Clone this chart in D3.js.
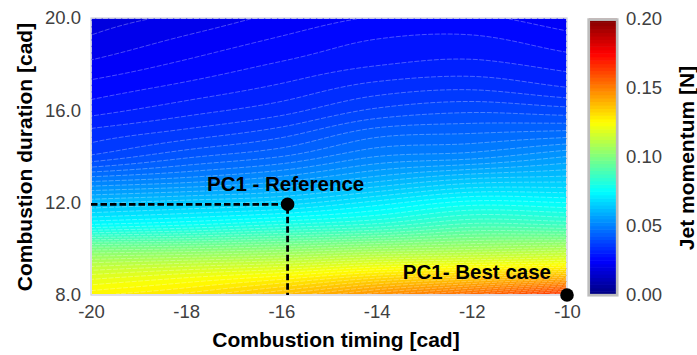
<!DOCTYPE html>
<html>
<head>
<meta charset="utf-8">
<script src="https://cdn.jsdelivr.net/npm/d3@7"></script>
<style>
  html, body { margin: 0; padding: 0; background: #fff; }
  svg { display: block; font-family: "Liberation Sans", Arial, sans-serif; }
</style>
</head>
<body>
<svg width="697" height="355"></svg>
<script>
// combustion timing [cad] (columns) and combustion duration [cad] (rows)
const timing = [-20, -18, -16, -14, -12, -10];
const duration = [8, 9, 10, 11, 12, 13, 14, 15, 16, 17, 18, 19, 20];

// jet momentum [N], one array per timing column, ordered by duration 8 -> 20
const momT20 = [0.127, 0.116, 0.099, 0.076, 0.062, 0.049, 0.038, 0.0335, 0.029, 0.026, 0.023, 0.0205, 0.0188];
const momT18 = [0.131, 0.119, 0.100, 0.078, 0.064, 0.051, 0.042, 0.036, 0.0315, 0.0282, 0.0255, 0.0231, 0.0207];
const momT16 = [0.138, 0.122, 0.102, 0.081, 0.066, 0.054, 0.045, 0.039, 0.034, 0.0305, 0.0278, 0.0255, 0.0232];
const momT14 = [0.147, 0.127, 0.105, 0.084, 0.071, 0.059, 0.050, 0.044, 0.038, 0.0335, 0.0298, 0.0277, 0.0252];
const momT12 = [0.155, 0.130, 0.107, 0.089, 0.076, 0.063, 0.0515, 0.045, 0.0395, 0.0345, 0.0306, 0.0282, 0.0255];
const momT10 = [0.166, 0.133, 0.109, 0.088, 0.075, 0.064, 0.055, 0.046, 0.0385, 0.0325, 0.029, 0.0262, 0.0235];

const xTicks = [-20, -18, -16, -14, -12, -10];
const yTicks = [8, 12, 16, 20];
const cTicks = [0, 0.05, 0.1, 0.15, 0.2];

const refPoint = { timing: -15.87, duration: 11.93, label: 'PC1 - Reference' };
const bestPoint = { timing: -10, duration: 8, label: 'PC1- Best case' };

let columns = [momT20, momT18, momT16, momT14, momT12, momT10];

let plotLeft = 91, plotTop = 18, plotW = 476, plotH = 277;
let svg = d3.select('svg');

let xScale = d3.scaleLinear().domain([-20, -10]).range([plotLeft, plotLeft + plotW]);
let yScale = d3.scaleLinear().domain([8, 20]).range([plotTop + plotH, plotTop]);
let cScale = d3.scaleLinear().domain([0, 0.2]).range([295, 19]);

// matlab style jet
function jet(t) {
  let c = v => Math.max(0, Math.min(1, v));
  let r = c(Math.min(4 * t - 1.5, -4 * t + 4.5));
  let g = c(Math.min(4 * t - 0.5, -4 * t + 3.5));
  let b = c(Math.min(4 * t + 0.5, -4 * t + 2.5));
  return d3.rgb(r * 255, g * 255, b * 255).toString();
}

// grid lookup with linear extension past the edges
function grid(i, j) {
  if (i < 0) return 2 * grid(0, j) - grid(1, j);
  if (i >= timing.length) return 2 * grid(timing.length - 1, j) - grid(timing.length - 2, j);
  if (j < 0) return 2 * grid(i, 0) - grid(i, 1);
  if (j >= duration.length) return 2 * grid(i, duration.length - 1) - grid(i, duration.length - 2);
  return columns[i][j];
}
function cr(p0, p1, p2, p3, t) {
  return p1 + 0.5 * t * (p2 - p0 + t * (2 * p0 - 5 * p1 + 4 * p2 - p3 + t * (3 * (p1 - p2) + p3 - p0)));
}
function sample(x, y) {
  let gx = (x - timing[0]) / (timing[1] - timing[0]);
  let gy = (y - duration[0]) / (duration[1] - duration[0]);
  let i = Math.min(Math.floor(gx), timing.length - 2), j = Math.min(Math.floor(gy), duration.length - 2);
  let tx = gx - i, ty = gy - j;
  let rows = [-1, 0, 1, 2].map(dj => cr(grid(i - 1, j + dj), grid(i, j + dj), grid(i + 1, j + dj), grid(i + 2, j + dj), tx));
  return cr(rows[0], rows[1], rows[2], rows[3], ty);
}

let nx = 238, ny = 140;
let values = new Array(nx * ny);
for (let j = 0; j < ny; j++) {
  for (let i = 0; i < nx; i++) {
    let x = -20 + (i + 0.5) * 10 / nx;
    let y = 20 - (j + 0.5) * 12 / ny;
    values[j * nx + i] = sample(x, y);
  }
}

let step = 0.0025;
let levels = d3.range(0, 0.2, step);
let contours = d3.contours().size([nx, ny]).thresholds(levels)(values);

let proj = d3.geoTransform({
  point: function(x, y) { this.stream.point(plotLeft + x * plotW / nx, plotTop + y * plotH / ny); }
});
let path = d3.geoPath(proj);

svg.append('clipPath').attr('id', 'plotclip')
  .append('rect').attr('x', plotLeft).attr('y', plotTop).attr('width', plotW).attr('height', plotH);

let plot = svg.append('g').attr('clip-path', 'url(#plotclip)');

plot.selectAll('path.band')
  .data(contours)
  .enter()
  .append('path')
  .classed('band', true)
  .attr('d', path)
  .attr('fill', d => jet((d.value + step / 2) / 0.2));

plot.selectAll('path.line')
  .data(contours.slice(1))
  .enter()
  .append('path')
  .classed('line', true)
  .attr('d', path)
  .attr('fill', 'none')
  .attr('stroke', 'rgba(255,255,255,0.42)')
  .attr('stroke-width', 0.7)
  .attr('stroke-dasharray', '5,1.5');

svg.append('rect')
  .attr('x', plotLeft).attr('y', plotTop).attr('width', plotW).attr('height', plotH)
  .attr('fill', 'none').attr('stroke', '#cdcdd8').attr('stroke-width', 1.2);

// reference guide lines
svg.append('path')
  .attr('d', `M${plotLeft},${yScale(refPoint.duration)}H${xScale(refPoint.timing)}V${plotTop + plotH}`)
  .attr('fill', 'none')
  .attr('stroke', '#000')
  .attr('stroke-width', 2.8)
  .attr('stroke-dasharray', '6.5,3');

svg.selectAll('circle.pt')
  .data([refPoint, bestPoint])
  .enter()
  .append('circle')
  .classed('pt', true)
  .attr('cx', d => xScale(d.timing))
  .attr('cy', d => yScale(d.duration))
  .attr('r', 6.8)
  .attr('fill', '#000');

svg.append('text')
  .attr('x', xScale(refPoint.timing) - 2)
  .attr('y', 191)
  .attr('text-anchor', 'middle')
  .style('font-size', '20.5px').style('font-weight', 'bold')
  .text(refPoint.label);

svg.append('text')
  .attr('x', 551)
  .attr('y', 279)
  .attr('text-anchor', 'end')
  .style('font-size', '20.5px').style('font-weight', 'bold')
  .text(bestPoint.label);

// axes
let xAxis = d3.axisBottom(xScale).tickValues(xTicks).tickSize(0).tickPadding(10).tickFormat(d => String(d));
let yAxis = d3.axisLeft(yScale).tickValues(yTicks).tickSize(0).tickPadding(10).tickFormat(d3.format('.1f'));

let gx = svg.append('g').attr('transform', `translate(0,${plotTop + plotH})`).call(xAxis);
let gy = svg.append('g').attr('transform', `translate(${plotLeft},0)`).call(yAxis);
[gx, gy].forEach(g => {
  g.select('.domain').remove();
  g.selectAll('text').style('font-size', '18.5px').style('font-family', '"Liberation Sans", Arial, sans-serif').attr('fill', '#404040');
});

svg.append('text')
  .attr('x', 336)
  .attr('y', 347)
  .attr('text-anchor', 'middle')
  .style('font-size', '21px').style('font-weight', 'bold')
  .text('Combustion timing [cad]');

svg.append('text')
  .attr('transform', 'rotate(-90)')
  .attr('x', -157)
  .attr('y', 32)
  .attr('text-anchor', 'middle')
  .style('font-size', '21px').style('font-weight', 'bold')
  .text('Combustion duration [cad]');

// colorbar
let cbar = svg.append('g');
cbar.selectAll('rect.cb')
  .data(levels)
  .enter()
  .append('rect')
  .classed('cb', true)
  .attr('x', 589)
  .attr('width', 28)
  .attr('y', d => cScale(d + step) - 0.3)
  .attr('height', d => cScale(d) - cScale(d + step) + 0.6)
  .attr('fill', d => jet((d + step / 2) / 0.2));

cbar.append('rect')
  .attr('x', 588.7).attr('y', 19.6).attr('width', 28.5).attr('height', 275.6)
  .attr('fill', 'none').attr('stroke', '#bdbdbd').attr('stroke-width', 2.7);

let cAxis = d3.axisRight(cScale).tickValues(cTicks).tickSize(0).tickPadding(8).tickFormat(d3.format('.2f'));
let gc = svg.append('g').attr('transform', 'translate(618,0)').call(cAxis);
gc.select('.domain').remove();
gc.selectAll('text').style('font-size', '18.5px').style('font-family', '"Liberation Sans", Arial, sans-serif').attr('fill', '#404040');

svg.append('text')
  .attr('transform', 'rotate(-90)')
  .attr('x', -158)
  .attr('y', 694)
  .attr('text-anchor', 'middle')
  .style('font-size', '21px').style('font-weight', 'bold')
  .text('Jet momentum [N]');
</script>
</body>
</html>
